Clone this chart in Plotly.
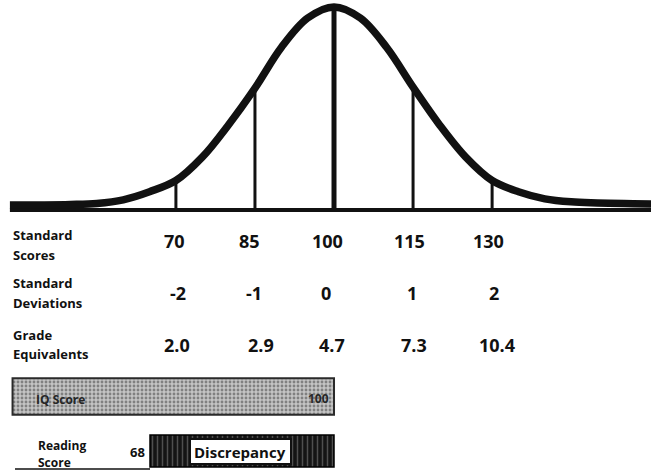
import plotly.graph_objects as go

# ---- data ----
curve_scores = [38.5, 40, 45, 50, 55, 60, 65, 70, 75, 80, 85, 90, 95, 100,
                105, 110, 115, 120, 125, 130, 135, 140, 145, 150, 155, 160, 161]
curve_heights = [2.5, 2.5, 2.5, 2.7, 3.2, 5, 9, 14.5, 26, 42, 60, 80, 94.5, 100,
                 94.5, 80, 60.5, 42, 26, 14.5, 9, 5.5, 4, 3.5, 3.2, 3, 3]
standard_scores = [70, 85, 100, 115, 130]
score_labels = ["70", "85", "100", "115", "130"]
sd_labels = ["-2", "-1", "0", "1", "2"]
grade_labels = ["2.0", "2.9", "4.7", "7.3", "10.4"]
row_titles = [["Standard", "Scores"], ["Standard", "Deviations"], ["Grade", "Equivalents"]]
iq_score = 100
reading_score = 68
scale_start = 39

W, H = 651, 475
XR = [36.62, 160.15]
YR = [-130.5, 103.4]
INK = "#111111"
FONT = "Open Sans"


def py2y(py):
    return YR[1] - py / H * (YR[1] - YR[0])


def px2x(px):
    return XR[0] + px / W * (XR[1] - XR[0])


def height_at(v):
    for i in range(len(curve_scores) - 1):
        a, b = curve_scores[i], curve_scores[i + 1]
        if a <= v <= b:
            t = (v - a) / (b - a)
            return curve_heights[i] + t * (curve_heights[i + 1] - curve_heights[i])
    return 0


fig = go.Figure()

# baseline
fig.add_trace(go.Scatter(x=[curve_scores[0], 170], y=[0, 0], mode="lines",
                         line=dict(color=INK, width=4), hoverinfo="skip"))

# vertical lines at standard scores
for s in standard_scores:
    fig.add_trace(go.Scatter(x=[s, s], y=[0, height_at(s)], mode="lines",
                             line=dict(color=INK, width=5 if s == 100 else 3),
                             hoverinfo="skip"))

# normal curve
fig.add_trace(go.Scatter(x=curve_scores, y=curve_heights, mode="lines",
                         line=dict(color=INK, width=7.5, shape="spline", smoothing=1.0),
                         hoverinfo="skip"))

# IQ score bar
fig.add_trace(go.Bar(orientation="h", y=[py2y(396.5)], x=[iq_score - scale_start],
                     base=[scale_start], width=[18],
                     marker=dict(color="#b0b0b0",
                                 line=dict(color="#2a2a2a", width=2),
                                 pattern=dict(shape=".", fgcolor="#3c3c3c",
                                              bgcolor="#c4c4c4", size=4, solidity=0.4)),
                     hoverinfo="skip"))

# Discrepancy bar (dark, striped)
disc_start = px2x(150)
fig.add_trace(go.Bar(orientation="h", y=[py2y(451)], x=[iq_score - disc_start],
                     base=[disc_start], width=[15.8],
                     marker=dict(color="#111111",
                                 line=dict(color="#000000", width=1.5),
                                 pattern=dict(shape="|", fgcolor="#8a8a8a",
                                              bgcolor="#141414", size=5, solidity=0.3)),
                     hoverinfo="skip"))

annotations = []


def txt(x, y, text, size, xanchor="left", xref="paper", color=INK, xshift=0):
    annotations.append(dict(x=x / W if xref == "paper" else x, xref=xref,
                            y=1 - y / H, yref="paper", text=text, showarrow=False,
                            xanchor=xanchor, yanchor="middle", xshift=xshift,
                            borderpad=0,
                            font=dict(family=FONT, size=size, color=color, weight="bold")))


title_py = [(235, 255), (283, 303), (335, 354)]
for (l1, l2), (y1, y2) in zip(row_titles, title_py):
    txt(12, y1, l1, 13)
    txt(12, y2, l2, 13)

value_py = [241, 293, 345]
shifts = [[-1, -5, -7, -4, -4], [2, -1, -8, -1, 2], [1, 6, -2, 1, 5]]
for labels, vy, shs in zip([score_labels, sd_labels, grade_labels], value_py, shifts):
    for s, lab, sh in zip(standard_scores, labels, shs):
        txt(s, vy, lab, 18, xanchor="center", xref="x", xshift=sh)

# bar labels
txt(35, 399, "IQ Score", 12, color="#262626")
txt(iq_score, 398, str(iq_score), 12, xanchor="right", xref="x", color="#262626", xshift=-4)
txt(37, 445, "Reading", 12)
txt(37, 462, "Score", 12)
txt(137, 452, str(reading_score), 13, xanchor="center")
txt(240, 452, "Discrepancy", 15, xanchor="center")

shapes = [
    dict(type="rect", xref="paper", yref="paper", x0=190 / W, x1=291 / W,
         y0=1 - 464 / H, y1=1 - 439 / H, fillcolor="white",
         line=dict(color=INK, width=2), layer="above"),
    dict(type="line", xref="paper", yref="paper", x0=15 / W, x1=150 / W,
         y0=1 - 469 / H, y1=1 - 469 / H, line=dict(color=INK, width=1.5)),
]

fig.update_layout(
    width=W, height=H, margin=dict(l=0, r=0, t=0, b=0),
    paper_bgcolor="white", plot_bgcolor="white", showlegend=False,
    xaxis=dict(range=XR, visible=False, fixedrange=True),
    yaxis=dict(range=YR, visible=False, fixedrange=True),
    annotations=annotations, shapes=shapes, barmode="overlay",
)

fig.write_html("out.html", config={"displayModeBar": False},
               post_script="document.body.style.margin='0';")
